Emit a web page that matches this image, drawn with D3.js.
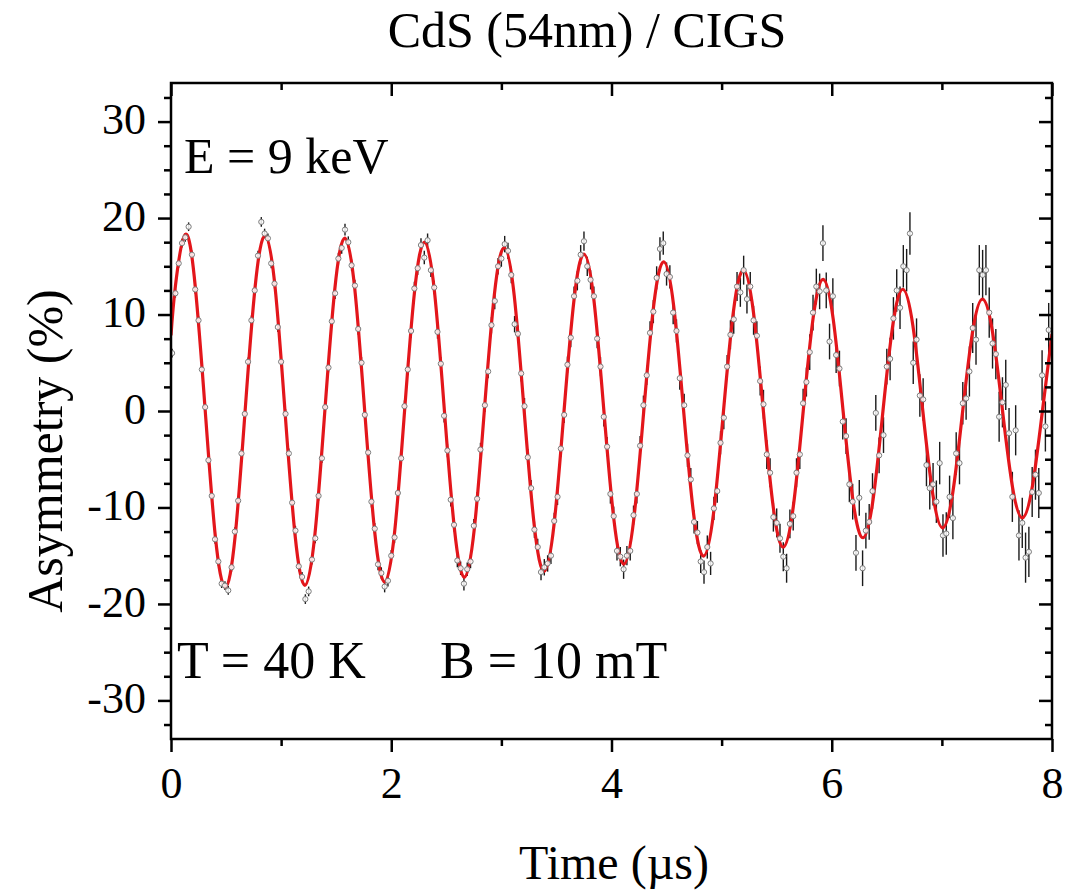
<!DOCTYPE html>
<html>
<head>
<meta charset="utf-8">
<script src="https://cdn.jsdelivr.net/npm/d3@7"></script>
<style>
  body { margin: 0; background: #fff; }
  svg text { font-family: "Liberation Serif", "Times New Roman", serif; fill: #000; }
</style>
</head>
<body>
<svg id="chart" width="1069" height="891"></svg>
<script>
// time bins (µs)
const time = [
  0.01,0.04,0.07,0.10,0.13,0.16,0.19,0.22,0.25,0.28,0.31,0.34,0.37,0.40,0.43,0.46,0.49,0.52,0.55,0.58,0.61,0.64,0.67,0.70,
  0.73,0.76,0.79,0.82,0.85,0.88,0.91,0.94,0.97,1.00,1.04,1.07,1.10,1.13,1.16,1.19,1.22,1.25,1.28,1.31,1.34,1.37,1.40,1.43,
  1.46,1.49,1.52,1.55,1.58,1.61,1.64,1.67,1.70,1.73,1.76,1.79,1.82,1.85,1.88,1.91,1.94,1.97,2.00,2.03,2.06,2.09,2.12,2.15,
  2.18,2.21,2.24,2.27,2.30,2.33,2.36,2.39,2.42,2.45,2.48,2.51,2.54,2.57,2.60,2.63,2.66,2.69,2.72,2.75,2.78,2.81,2.85,2.88,
  2.91,2.94,2.97,3.00,3.03,3.06,3.09,3.12,3.15,3.18,3.21,3.24,3.27,3.30,3.33,3.36,3.39,3.42,3.45,3.48,3.51,3.54,3.57,3.60,
  3.63,3.66,3.69,3.72,3.75,3.78,3.81,3.84,3.87,3.90,3.93,3.96,3.99,4.02,4.05,4.08,4.11,4.14,4.17,4.20,4.23,4.26,4.29,4.32,
  4.35,4.38,4.41,4.44,4.47,4.50,4.53,4.56,4.59,4.62,4.66,4.69,4.72,4.75,4.78,4.81,4.84,4.87,4.90,4.93,4.96,4.99,5.02,5.05,
  5.08,5.11,5.14,5.17,5.20,5.23,5.26,5.29,5.32,5.35,5.38,5.41,5.44,5.47,5.50,5.53,5.56,5.59,5.62,5.65,5.68,5.71,5.74,5.77,
  5.80,5.83,5.86,5.89,5.92,5.95,5.98,6.01,6.04,6.07,6.10,6.13,6.16,6.19,6.22,6.25,6.28,6.31,6.34,6.37,6.40,6.43,6.47,6.50,
  6.53,6.56,6.59,6.62,6.65,6.68,6.71,6.74,6.77,6.80,6.83,6.86,6.89,6.92,6.95,6.98,7.01,7.04,7.07,7.10,7.13,7.16,7.19,7.22,
  7.25,7.28,7.31,7.34,7.37,7.40,7.43,7.46,7.49,7.52,7.55,7.58,7.61,7.64,7.67,7.70,7.73,7.76,7.79,7.82,7.85,7.88,7.91,7.94,
  7.97
];

// asymmetry (%)
const asym = [
  6.0, 12.2, 15.3, 17.4, 18.0, 19.1, 16.2, 12.6, 9.4, 4.3, 0.4, -5.1, -8.8, -13.3, -15.6, -17.9, -18.1, -18.6, -16.2, -12.5, -9.3, -4.4, -0.3, 5.1,
  9.4, 12.5, 16.1, 19.6, 18.4, 17.9, 15.3, 13.2, 8.7, 5.1, -0.3, -4.4, -9.5, -12.4, -16.1, -17.2, -19.5, -18.7, -15.4, -13.2, -8.8, -4.9, 0.4, 4.5,
  9.3, 12.2, 15.8, 16.9, 18.8, 17.5, 15.1, 13.0, 8.5, 5.0, -0.4, -4.3, -9.4, -12.2, -15.9, -16.8, -18.2, -17.6, -15.0, -13.1, -8.5, -4.9, 0.5, 4.3,
  8.3, 12.7, 14.8, 17.2, 15.9, 17.7, 14.6, 12.8, 8.2, 4.9, -0.5, -4.1, -9.2, -11.8, -15.5, -16.3, -17.9, -16.4, -15.6, -11.9, -9.1, -4.0, 0.6, 4.1,
  8.9, 11.4, 15.0, 15.8, 17.3, 16.6, 14.1, 9.0, 8.0, 3.9, 0.5, -4.8, -8.0, -12.3, -14.1, -16.7, -16.2, -15.8, -15.0, -11.4, -8.9, -3.9, -0.4, 4.8,
  7.6, 11.9, 13.5, 16.2, 17.6, 15.0, 13.6, 11.9, 7.5, 4.6, -0.6, -3.7, -8.6, -10.9, -14.5, -15.1, -16.4, -15.0, -14.5, -10.8, -8.6, -3.6, 0.6, 3.7,
  8.1, 10.3, 13.8, 16.8, 17.4, 14.2, 13.9, 10.2, 8.3, 3.4, 0.6, -4.6, -7.1, -11.5, -12.6, -15.6, -16.7, -14.1, -15.8, -10.1, -8.3, -3.3, -0.7, 4.6,
  7.9, 9.5, 12.9, 12.3, 14.6, 11.6, 12.9, 9.4, 7.8, 3.1, 0.7, -4.5, -6.4, -11.0, -11.6, -13.2, -15.1, -16.3, -11.7, -10.9, -6.4, -4.5, 0.8, 3.0,
  6.1, 10.2, 12.9, 12.4, 17.4, 12.5, 7.2, 11.9, 5.8, 4.4, -1.1, -2.6, -7.6, -9.4, -14.7, -9.0, -16.3, -12.4, -11.5, -8.3, -0.2, -4.6, -2.5, 4.6,
  5.4, 9.6, 12.5, 10.7, 15.0, 14.6, 18.4, 5.0, 7.4, 1.6, 1.2, -5.6, -8.0, -7.6, -9.4, -5.4, -12.9, -12.7, -8.9, -11.1, -4.4, -5.4, 0.8, 1.3,
  4.1, 8.6, 7.4, 14.6, 14.1, 14.6, 10.2, 7.0, 5.9, -0.6, 0.9, 2.7, -2.3, -8.9, -2.0, -12.9, -11.6, -15.2, -14.6, -8.4, -6.6, -8.5, 3.7, -1.6,
  8.4
];

// error bars (%)
const err = [
  0.45,0.45,0.45,0.45,0.45,0.45,0.45,0.45,0.45,0.45,0.45,0.45,0.45,0.45,0.45,0.45,0.45,0.45,0.45,0.45,0.45,0.45,0.45,0.45,
  0.5,0.5,0.5,0.5,0.5,0.5,0.5,0.5,0.5,0.5,0.5,0.5,0.5,0.5,0.5,0.5,0.5,0.5,0.5,0.5,0.5,0.5,0.5,0.5,
  0.6,0.6,0.6,0.6,0.6,0.6,0.6,0.6,0.6,0.6,0.6,0.6,0.6,0.6,0.6,0.6,0.6,0.6,0.6,0.6,0.6,0.6,0.6,0.6,
  0.7,0.7,0.7,0.7,0.7,0.7,0.7,0.7,0.7,0.7,0.7,0.7,0.7,0.7,0.7,0.7,0.7,0.7,0.7,0.7,0.7,0.7,0.7,0.7,
  0.85,0.85,0.85,0.85,0.85,0.85,0.85,0.85,0.85,0.85,0.85,0.85,0.85,0.85,0.85,0.85,0.85,0.85,0.85,0.85,0.85,0.85,0.85,0.85,
  1.0,1.0,1.0,1.0,1.0,1.0,1.0,1.0,1.0,1.0,1.0,1.0,1.0,1.0,1.0,1.0,1.0,1.0,1.0,1.0,1.0,1.0,1.0,1.0,
  1.2,1.2,1.2,1.2,1.2,1.2,1.2,1.2,1.2,1.2,1.2,1.2,1.2,1.2,1.2,1.2,1.2,1.2,1.2,1.2,1.2,1.2,1.2,1.2,
  1.5,1.5,1.5,1.5,1.5,1.5,1.5,1.5,1.5,1.5,1.5,1.5,1.5,1.5,1.5,1.5,1.5,1.5,1.5,1.5,1.5,1.5,1.5,1.5,
  1.85,1.85,1.85,1.85,1.85,1.85,1.85,1.85,1.85,1.85,1.85,1.85,1.85,1.85,1.85,1.85,1.85,1.85,1.85,1.85,1.85,1.85,1.85,1.85,
  2.2,2.2,2.2,2.2,2.2,2.2,2.2,2.2,2.2,2.2,2.2,2.2,2.2,2.2,2.2,2.2,2.2,2.2,2.2,2.2,2.2,2.2,2.2,2.2,
  2.6,2.6,2.6,2.6,2.6,2.6,2.6,2.6,2.6,2.6,2.6,2.6,2.6,2.6,2.6,2.6,2.6,2.6,2.6,2.6,2.6,2.6,2.6,2.6,
  2.8
];

// fit curve, read at eighth-period points
const fitTime = [
  0, 0.040, 0.130, 0.220, 0.311, 0.402, 0.493, 0.583, 0.673,
  0.764, 0.854, 0.945, 1.035, 1.126, 1.216, 1.307, 1.397,
  1.488, 1.578, 1.669, 1.759, 1.850, 1.940, 2.031, 2.121,
  2.212, 2.302, 2.393, 2.483, 2.574, 2.664, 2.755, 2.845,
  2.936, 3.026, 3.117, 3.207, 3.298, 3.388, 3.479, 3.569,
  3.660, 3.750, 3.841, 3.931, 4.022, 4.112, 4.203, 4.293,
  4.384, 4.474, 4.565, 4.655, 4.746, 4.836, 4.927, 5.017,
  5.108, 5.198, 5.289, 5.379, 5.470, 5.560, 5.651, 5.741,
  5.832, 5.922, 6.013, 6.103, 6.194, 6.284, 6.375, 6.465,
  6.556, 6.646, 6.737, 6.827, 6.918, 7.008, 7.099, 7.189,
  7.280, 7.370, 7.461, 7.551, 7.642, 7.732, 7.823, 7.913,
  8.000
];
const fitVal = [
  7.84, 12.94, 18.30, 12.93, 0, -12.93, -18.28, -12.92, 0,
  12.88, 18.19, 12.84, 0, -12.80, -18.07, -12.76, 0,
  12.70, 17.92, 12.64, 0, -12.57, -17.73, -12.50, 0,
  12.42, 17.50, 12.33, 0, -12.24, -17.24, -12.14, 0,
  12.03, 16.94, 11.93, 0, -11.81, -16.62, -11.69, 0,
  11.56, 16.26, 11.43, 0, -11.29, -15.87, -11.15, 0,
  11.01, 15.47, 10.86, 0, -10.71, -15.04, -10.56, 0,
  10.39, 14.59, 10.23, 0, -10.07, -14.12, -9.90, 0,
  9.73, 13.64, 9.55, 0, -9.38, -13.14, -9.20, 0,
  9.01, 12.62, 8.83, 0, -8.65, -12.11, -8.47, 0,
  8.29, 11.59, 8.10, 0, -7.92, -11.07, -7.73, 0,
  8.0
];

const xMajor = [0, 2, 4, 6, 8];
const xMinor = [1, 3, 5, 7];
const yMajor = [-30, -20, -10, 0, 10, 20, 30];
const yMinor = [-32.5, -27.5, -25, -22.5, -17.5, -15, -12.5, -7.5, -5, -2.5,
                2.5, 5, 7.5, 12.5, 15, 17.5, 22.5, 25, 27.5, 32.5];

const L = 171, R = 1052, T = 83, B = 739;

const svg = d3.select("#chart");
svg.append("rect").attr("width", 1069).attr("height", 891).attr("fill", "#fff");

const x = d3.scaleLinear().domain([0, 8]).range([L, R]);
const y = d3.scaleLinear().domain([-34, 34]).range([B, T]);

svg.append("clipPath").attr("id", "plotClip")
    .append("rect").attr("x", L).attr("y", T).attr("width", R - L).attr("height", B - T);

const points = time.map((t, i) => ({ t: t, v: asym[i], e: err[i] }));

const dataG = svg.append("g").attr("clip-path", "url(#plotClip)");

// error bars
dataG.selectAll(".ebar")
    .data(points)
    .enter()
    .append("line")
    .attr("class", "ebar")
    .attr("x1", d => x(d.t))
    .attr("x2", d => x(d.t))
    .attr("y1", d => y(d.v - d.e))
    .attr("y2", d => y(d.v + d.e))
    .attr("stroke", "#1a1a1a")
    .attr("stroke-width", 1.4);

// fit line
const line = d3.line()
    .x((d, i) => x(fitTime[i]))
    .y(d => y(d))
    .curve(d3.curveNatural);

dataG.append("path")
    .attr("d", line(fitVal))
    .attr("fill", "none")
    .attr("stroke", "#e3161b")
    .attr("stroke-width", 3.2);

// open circles
dataG.selectAll(".pt")
    .data(points)
    .enter()
    .append("circle")
    .attr("class", "pt")
    .attr("cx", d => x(d.t))
    .attr("cy", d => y(d.v))
    .attr("r", 2.6)
    .attr("fill", "#fff")
    .attr("fill-opacity", 0.85)
    .attr("stroke", "#7a7a7a")
    .attr("stroke-width", 1);

// axes
function styleAxis(g) {
    g.select(".domain").remove();
    g.selectAll("line").attr("stroke", "#000").attr("stroke-width", 2.5);
    g.attr("font-size", 44).attr("font-family", null);
}

// bottom
svg.append("g").attr("transform", `translate(0,${B})`)
    .call(d3.axisBottom(x).tickValues(xMajor).tickSize(13).tickFormat(d => d))
    .call(styleAxis)
    .selectAll("text").attr("dy", null).attr("y", 59);
svg.append("g").attr("transform", `translate(0,${B})`)
    .call(d3.axisBottom(x).tickValues(xMinor).tickSize(7).tickFormat(""))
    .call(styleAxis);

// top (inward)
svg.append("g").attr("transform", `translate(0,${T})`)
    .call(d3.axisTop(x).tickValues(xMajor).tickSize(-13).tickFormat(""))
    .call(styleAxis);
svg.append("g").attr("transform", `translate(0,${T})`)
    .call(d3.axisTop(x).tickValues(xMinor).tickSize(-7).tickFormat(""))
    .call(styleAxis);

// left
svg.append("g").attr("transform", `translate(${L},0)`)
    .call(d3.axisLeft(y).tickValues(yMajor).tickSize(13).tickPadding(12).tickFormat(d => String(d)))
    .call(styleAxis)
    .selectAll("text").attr("dy", "0.28em");
svg.append("g").attr("transform", `translate(${L},0)`)
    .call(d3.axisLeft(y).tickValues(yMinor).tickSize(7).tickFormat(""))
    .call(styleAxis);

// right (inward)
svg.append("g").attr("transform", `translate(${R},0)`)
    .call(d3.axisRight(y).tickValues(yMajor).tickSize(-13).tickFormat(""))
    .call(styleAxis);
svg.append("g").attr("transform", `translate(${R},0)`)
    .call(d3.axisRight(y).tickValues(yMinor).tickSize(-7).tickFormat(""))
    .call(styleAxis);

// frame
svg.append("rect")
    .attr("x", L).attr("y", T)
    .attr("width", R - L).attr("height", B - T)
    .attr("fill", "none")
    .attr("stroke", "#000")
    .attr("stroke-width", 2.5);

// texts
svg.append("text").attr("x", 587).attr("y", 47)
    .attr("text-anchor", "middle").attr("font-size", 50)
    .text("CdS (54nm) / CIGS");

svg.append("text").attr("x", 614).attr("y", 879)
    .attr("text-anchor", "middle").attr("font-size", 48)
    .text("Time (µs)");

svg.append("text")
    .attr("transform", "translate(62,451) rotate(-90)")
    .attr("text-anchor", "middle").attr("font-size", 50)
    .text("Asymmetry (%)");

svg.append("text").attr("x", 184).attr("y", 173).attr("font-size", 50).text("E = 9 keV");
svg.append("text").attr("x", 177).attr("y", 678).attr("font-size", 52).text("T = 40 K");
svg.append("text").attr("x", 440).attr("y", 678).attr("font-size", 52).text("B = 10 mT");
</script>
</body>
</html>
